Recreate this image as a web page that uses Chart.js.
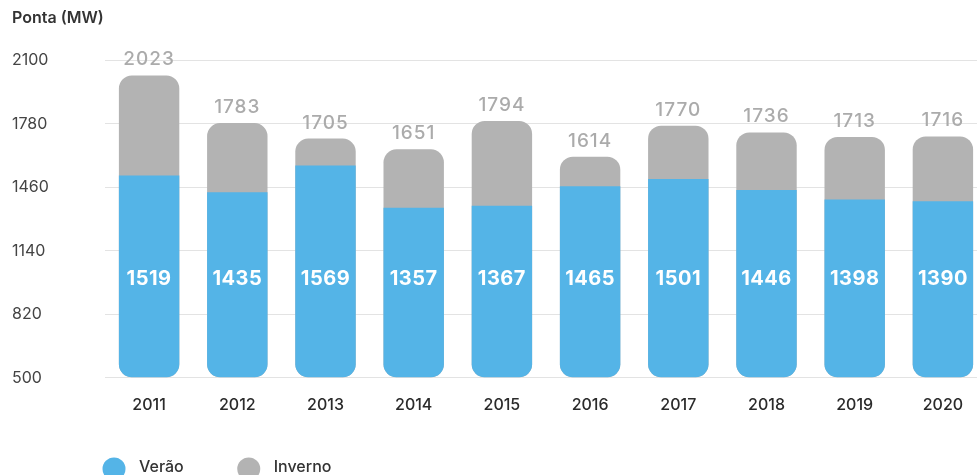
<!DOCTYPE html>
<html>
<head>
<meta charset="utf-8">
<script src="https://cdn.jsdelivr.net/npm/chart.js@4"></script>
<style>
  html, body { margin: 0; padding: 0; background: #fff; }
  #clip { width: 977px; height: 475px; overflow: hidden; position: relative; }
  #wrap { width: 992px; height: 475px; position: absolute; left: 0; top: 0; }
</style>
</head>
<body>
<div id="clip"><div id="wrap"><canvas id="c"></canvas></div></div>
<script>
const categories = ['2011','2012','2013','2014','2015','2016','2017','2018','2019','2020'];
const verao   = [1519, 1435, 1569, 1357, 1367, 1465, 1501, 1446, 1398, 1390];
const inverno = [2023, 1783, 1705, 1651, 1794, 1614, 1770, 1736, 1713, 1716];
const yTicks  = [500, 820, 1140, 1460, 1780, 2100];
const seriesNames = ['Verão', 'Inverno'];

const BLUE = '#54B4E7';
const GRAY = '#B3B3B3';
const FONT = 'Inter, "DejaVu Sans", sans-serif';

const valueLabels = {
  id: 'valueLabels',
  afterDatasetsDraw(chart) {
    const ctx = chart.ctx;
    const ys = chart.scales.y;
    ctx.save();
    ctx.textAlign = 'center';
    // Inverno values above the grey bars
    ctx.font = '500 19px ' + FONT;
    ctx.letterSpacing = '1px';
    ctx.fillStyle = '#ABABAB';
    ctx.textBaseline = 'alphabetic';
    chart.getDatasetMeta(1).data.forEach((bar, i) => {
      ctx.fillText(String(inverno[i]), bar.x, bar.y - 10);
    });
    // Verão values inside the blue bars, at a common level
    ctx.font = '700 20px ' + FONT;
    ctx.letterSpacing = '0.5px';
    ctx.fillStyle = '#FFFFFF';
    ctx.textBaseline = 'middle';
    const yMid = ys.getPixelForValue((ys.min + ys.max) / 2 - 300);
    chart.getDatasetMeta(0).data.forEach((bar, i) => {
      ctx.fillText(String(verao[i]), bar.x, yMid);
    });
    ctx.restore();
  }
};

const customLegend = {
  id: 'customLegend',
  afterDraw(chart) {
    const ctx = chart.ctx;
    const area = chart.chartArea;
    const cy = chart.height - 8;
    ctx.save();
    ctx.font = '500 16px ' + FONT;
    ctx.textBaseline = 'middle';
    ctx.textAlign = 'left';
    let x = area.left + 9;
    chart.data.datasets.forEach(ds => {
      ctx.beginPath();
      ctx.fillStyle = ds.backgroundColor;
      ctx.arc(x, cy + 2, 11.5, 0, Math.PI * 2);
      ctx.fill();
      ctx.fillStyle = '#333333';
      ctx.fillText(ds.label, x + 25, cy);
      x = x + 25 + ctx.measureText(ds.label).width + 65;
    });
    ctx.restore();
  }
};

new Chart(document.getElementById('c'), {
  type: 'bar',
  data: {
    labels: categories,
    datasets: [
      {
        label: seriesNames[0],
        data: verao,
        backgroundColor: BLUE,
        grouped: false,
        base: yTicks[0],
        borderSkipped: false,
        borderRadius: { topLeft: 0, topRight: 0, bottomLeft: 13, bottomRight: 13 },
        categoryPercentage: 1,
        barPercentage: 0.685
      },
      {
        label: seriesNames[1],
        data: inverno,
        backgroundColor: GRAY,
        grouped: false,
        base: yTicks[0],
        borderSkipped: false,
        borderRadius: 13,
        categoryPercentage: 1,
        barPercentage: 0.685
      }
    ]
  },
  options: {
    responsive: true,
    maintainAspectRatio: false,
    animation: false,
    layout: { padding: { left: 12, right: 5, top: 0, bottom: 42 } },
    plugins: {
      legend: { display: false },
      tooltip: { enabled: false },
      title: {
        display: true,
        text: 'Ponta (MW)',
        align: 'start',
        color: '#333333',
        font: { family: FONT, size: 16, weight: '600' },
        padding: { top: 9, bottom: 32 }
      }
    },
    scales: {
      x: {
        grid: { display: false, drawTicks: false },
        border: { display: false },
        ticks: {
          color: '#2b2b2b',
          padding: 18,
          font: { family: FONT, size: 16, weight: '500' }
        }
      },
      y: {
        min: yTicks[0],
        max: yTicks[yTicks.length - 1],
        afterBuildTicks(scale) { scale.ticks = yTicks.map(v => ({ value: v })); },
        afterFit(scale) { scale.width = 93; },
        grid: { color: '#E3E3E3', drawTicks: false, lineWidth: 1 },
        border: { display: false },
        ticks: {
          crossAlign: 'far',
          color: '#444444',
          padding: 10,
          callback: v => String(v),
          font: { family: FONT, size: 16, weight: '400' }
        }
      }
    }
  },
  plugins: [valueLabels, customLegend]
});
</script>
</body>
</html>
